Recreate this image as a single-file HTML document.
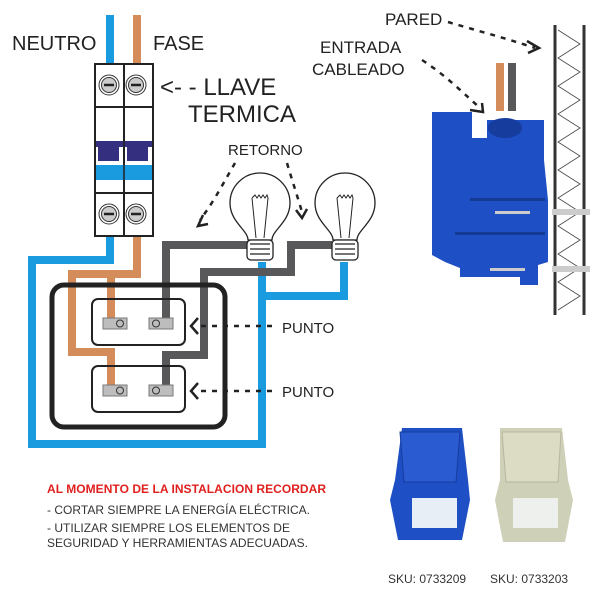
<!DOCTYPE html>
<html><head><meta charset="utf-8"><style>html,body{margin:0;padding:0;background:#fff}svg{display:block}</style></head>
<body>
<svg width="600" height="600" viewBox="0 0 600 600" xmlns="http://www.w3.org/2000/svg" font-family="Liberation Sans, sans-serif">
<rect width="600" height="600" fill="#fff"/>
<g fill="none" stroke-linejoin="miter">
<path d="M110 15V64M110 236V260H32V444H262V262M262 262V296H344V262" stroke="#1a9be0" stroke-width="8"/>
<path d="M137 15V64M137 236V274H72V352H111V386M111 274V320" stroke="#d38c5a" stroke-width="8"/>
<path d="M166 320V245H248M166 386V355H204V272H291V245H332" stroke="#58585a" stroke-width="8"/>
</g>
<g stroke="#222" stroke-width="2" fill="#fff">
<rect x="95" y="64" width="58" height="172"/>
<line x1="124" y1="64" x2="124" y2="236"/>
<line x1="95" y1="107" x2="153" y2="107"/>
<line x1="95" y1="193" x2="153" y2="193"/>
</g>
<rect x="96" y="141" width="56" height="6" fill="#34307f"/>
<rect x="98" y="147" width="21" height="14" fill="#34307f"/>
<rect x="127" y="147" width="21" height="14" fill="#34307f"/>
<rect x="96" y="165" width="56" height="15" fill="#1a9be0"/>
<line x1="124" y1="141" x2="124" y2="180" stroke="#222" stroke-width="1.5"/>
<g stroke="#333" fill="#ccc" stroke-width="1">
<circle cx="109" cy="85" r="10" fill="#fff"/><circle cx="109" cy="85" r="7.5"/>
<circle cx="136" cy="85" r="10" fill="#fff"/><circle cx="136" cy="85" r="7.5"/>
<circle cx="109" cy="214" r="10" fill="#fff"/><circle cx="109" cy="214" r="7.5"/>
<circle cx="136" cy="214" r="10" fill="#fff"/><circle cx="136" cy="214" r="7.5"/>
</g>
<g stroke="#222" stroke-width="2.5"><line x1="104" y1="85" x2="114" y2="85"/><line x1="131" y1="85" x2="141" y2="85"/><line x1="104" y1="214" x2="114" y2="214"/><line x1="131" y1="214" x2="141" y2="214"/></g>
<rect x="52" y="285" width="173" height="142" rx="12" fill="none" stroke="#222" stroke-width="5"/>
<rect x="92" y="299" width="93" height="46" rx="6" fill="none" stroke="#222" stroke-width="2"/>
<rect x="92" y="366" width="93" height="46" rx="6" fill="none" stroke="#222" stroke-width="2"/>
<g fill="#bdbdbd" stroke="#777" stroke-width="1">
<rect x="103" y="318" width="24" height="11"/><rect x="149" y="318" width="24" height="11"/>
<rect x="103" y="385" width="24" height="11"/><rect x="149" y="385" width="24" height="11"/>
</g>
<g fill="none" stroke="#333" stroke-width="1"><circle cx="120" cy="323.5" r="3.5"/><circle cx="156" cy="323.5" r="3.5"/><circle cx="120" cy="390.5" r="3.5"/><circle cx="156" cy="390.5" r="3.5"/></g>
<g fill="#fff" stroke="#222" stroke-width="1.3">
<path d="M248 240C248 230 230 222 230 203A30 30 0 0 1 290 203C290 222 272 230 272 240Z"/>
<path d="M333 240C333 230 315 222 315 203A30 30 0 0 1 375 203C375 222 357 230 357 240Z"/>
<rect x="247" y="240" width="26" height="20" rx="4"/>
<rect x="332" y="240" width="26" height="20" rx="4"/>
<path d="M250 244H270M250 249H270M250 254H270M335 244H355M335 249H355M335 254H355" fill="none"/>
<path d="M252 198L256 238M268 198L264 238M252 198l3-3 2 3 2-3 2 3 2-3 2 3 2-3 1 3M337 198L341 238M353 198L349 238M337 198l3-3 2 3 2-3 2 3 2-3 2 3 2-3 1 3" fill="none" stroke-width="1"/>
</g>
<g fill="#222" font-size="20">
<text x="12" y="50">NEUTRO</text>
<text x="153" y="50">FASE</text>
<text x="160" y="95" font-size="24">&lt;- - LLAVE</text>
<text x="188" y="122" font-size="24">TERMICA</text>
<text x="228" y="155" font-size="15">RETORNO</text>
<text x="282" y="333" font-size="15">PUNTO</text>
<text x="282" y="397" font-size="15">PUNTO</text>
<text x="385" y="25" font-size="17">PARED</text>
<text x="320" y="53" font-size="17">ENTRADA</text>
<text x="312" y="75" font-size="17">CABLEADO</text>
</g>
<g fill="none" stroke="#222" stroke-width="2.5" stroke-dasharray="5 6">
<path d="M272 326H200M272 391H200"/>
<path d="M235 163C225 180 215 200 200 220"/>
<path d="M287 163C292 180 297 195 302 212"/>
<path d="M448 22C475 30 505 38 535 48"/>
<path d="M422 60C445 75 460 90 480 108"/>
</g>
<g fill="none" stroke="#222" stroke-width="2.5">
<path d="M198 318L191 326L198 334M198 383L191 391L198 399"/>
<path d="M203 215L198 226L208 224M296 210L302 218L307 209"/>
<path d="M527 41L539 48L528 53M470 110L483 112L482 103"/>
</g>
<g stroke="#333" stroke-width="3"><line x1="555" y1="25" x2="555" y2="315"/><line x1="584" y1="25" x2="584" y2="315"/></g>
<polyline fill="none" stroke="#444" stroke-width="0.8" points="558,30 580,44 558,58 580,72 558,86 580,100 558,114 580,128 558,142 580,156 558,170 580,184 558,198 580,212 558,226 580,240 558,254 580,268 558,282 580,296 558,310"/>
<rect x="552" y="209" width="38" height="6" fill="#ccc"/>
<rect x="552" y="266" width="38" height="6" fill="#ccc"/>
<rect x="496" y="63" width="8" height="48" fill="#d38c5a"/>
<rect x="508" y="63" width="8" height="48" fill="#58585a"/>
<path d="M432 112H472V138H487V120H544V160L548 200V262L538 265V285H520V277H460V268L445 262L432 255Z" fill="#1e4fc4"/>
<ellipse cx="505" cy="128" rx="17" ry="10" fill="#163d9e"/>
<rect x="470" y="198" width="75" height="3" fill="#143a95"/>
<rect x="455" y="232" width="90" height="3" fill="#143a95"/>
<rect x="495" y="211" width="35" height="3" fill="#ccc"/>
<rect x="490" y="268" width="35" height="3" fill="#ccc"/>
<path d="M402 428H462L468 480L470 500L462 540H398L390 500L395 480Z" fill="#1e4fc4"/>
<rect x="412" y="498" width="45" height="30" fill="#e8eef5"/>
<path d="M400 432H460L456 482H404Z" fill="#2a5bd0" stroke="#163d9e"/>
<path d="M500 428H562L568 480L573 500L565 542H503L495 500L500 480Z" fill="#cfd0b8"/>
<rect x="513" y="498" width="45" height="30" fill="#eef0ee"/>
<path d="M502 432H561L558 482H506Z" fill="#dcdcc4" stroke="#b5b69d"/>
<text x="47" y="493" font-size="12" font-weight="bold" fill="#e0201e" textLength="279">AL MOMENTO DE LA INSTALACION RECORDAR</text>
<g font-size="12" fill="#333">
<text x="47" y="514" textLength="263">- CORTAR SIEMPRE LA ENERGÍA ELÉCTRICA.</text>
<text x="47" y="532" textLength="243">- UTILIZAR SIEMPRE LOS ELEMENTOS DE</text>
<text x="47" y="547" textLength="261">SEGURIDAD Y HERRAMIENTAS ADECUADAS.</text>
<text x="388" y="583">SKU: 0733209</text>
<text x="490" y="583">SKU: 0733203</text>
</g>
</svg>
</body></html>
